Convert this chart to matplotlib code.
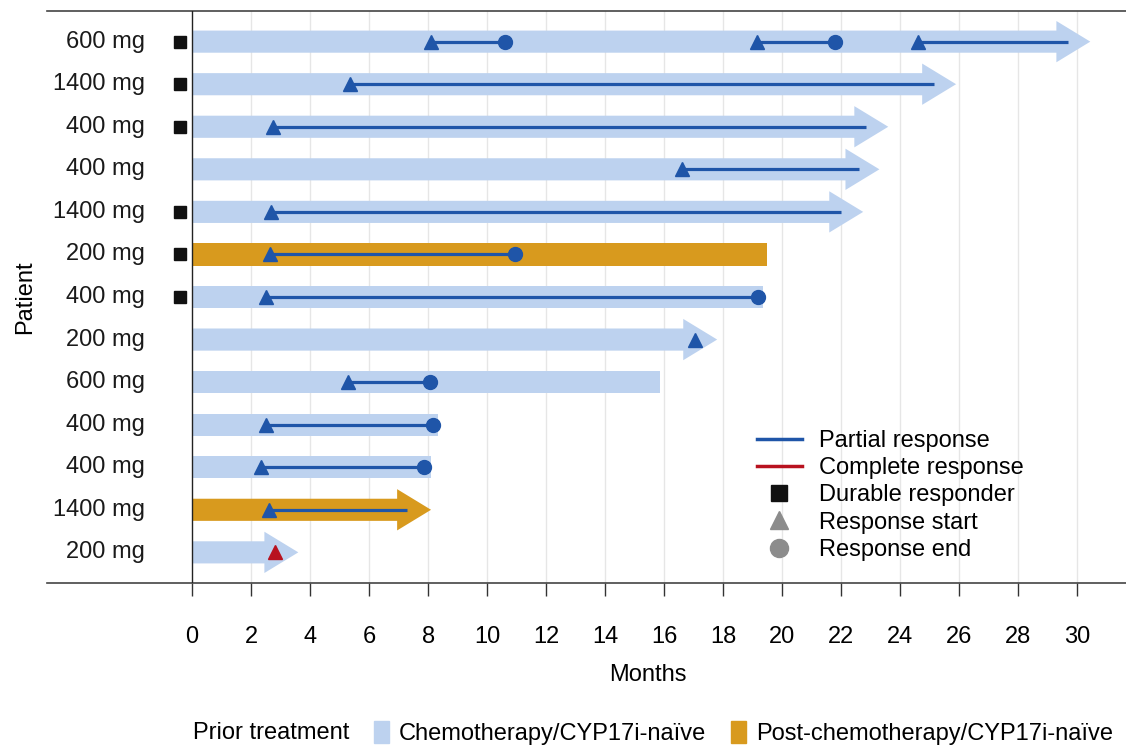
import numpy as np
import matplotlib
matplotlib.use("Agg")
import matplotlib.pyplot as plt
from matplotlib.patches import FancyArrow, Patch
from matplotlib.lines import Line2D

plt.rcParams['font.family'] = ['Liberation Sans', 'DejaVu Sans']
FS = 17

# one row per patient, top to bottom
doses = ['600 mg', '1400 mg', '400 mg', '400 mg', '1400 mg', '200 mg', '400 mg',
         '200 mg', '600 mg', '400 mg', '400 mg', '1400 mg', '200 mg']
duration = [30.45, 25.9, 23.6, 23.3, 22.75, 19.5, 19.35, 17.8, 15.85, 8.35, 8.1, 8.1, 3.6]
ongoing = [True, True, True, True, True, False, False, True, False, False, False, True, True]
post_chemo = [False, False, False, False, False, True, False, False, False, False, False, True, False]
durable = [True, True, True, False, True, True, True, False, False, False, False, False, False]

# response episodes
resp_row = [0, 0, 0, 1, 2, 3, 4, 5, 6, 7, 8, 9, 10, 11, 12]
resp_start = [8.1, 19.15, 24.6, 5.35, 2.75, 16.6, 2.68, 2.65, 2.5, 17.05, 5.3, 2.5, 2.35, 2.6, 2.8]
resp_end = [10.6, 21.8, 29.7, 25.15, 22.85, 22.6, 22.0, 10.95, 19.2, np.nan, 8.05, 8.15, 7.85, 7.3, np.nan]
resp_ended = [True, True, False, False, False, False, False, True, True, False, True, True, True, False, False]
resp_type = ['PR'] * 14 + ['CR']

C_CHEMO = '#BDD2EF'
C_POST = '#D89A1E'
C_PR = '#1F55A8'
C_CR = '#B8121F'

fig = plt.figure(figsize=(11.26, 7.48), dpi=100)
ax = fig.add_axes([47 / 1126, 1 - 583 / 748, 1 - 47 / 1126, (583 - 11) / 748])

rows = np.arange(1, len(doses) + 1)
bar_h = 0.52

for y, d, on, pc in zip(rows, duration, ongoing, post_chemo):
    col = C_POST if pc else C_CHEMO
    if on:
        ax.add_patch(FancyArrow(0, y, d, 0, width=bar_h, head_width=0.97, head_length=1.15,
                                length_includes_head=True, color=col, lw=0, zorder=2))
    else:
        ax.barh(y, d, height=bar_h, color=col, lw=0, zorder=2)

for r, s, e, ended, t in zip(resp_row, resp_start, resp_end, resp_ended, resp_type):
    y = rows[r]
    col = C_PR if t == 'PR' else C_CR
    if not np.isnan(e):
        ax.plot([s, e], [y, y], color=col, lw=2.3, zorder=3, solid_capstyle='butt')
        if ended:
            ax.plot(e, y, 'o', color=col, ms=10, zorder=4)
    ax.plot(s, y, '^', color=col, ms=10, zorder=4)

for y, dur_resp in zip(rows, durable):
    if dur_resp:
        ax.plot(-0.42, y, 's', color='#111111', ms=8.5, zorder=4)

for y, lab in zip(rows, doses):
    ax.text(-1.6, y, lab, ha='right', va='center', fontsize=FS, color='#1a1a1a')

ax.set_xlim(-4.92, 31.66)
ax.set_ylim(13.72, 0.28)
ax.axvline(0, color='#222222', lw=1, zorder=5)

xt = np.arange(0, 31, 2)
ax.set_xticks(xt)
ax.set_xticklabels([str(v) for v in xt], fontsize=FS)
ax.tick_params(axis='x', direction='out', length=9, width=1, color='#333333', pad=22)
ax.set_yticks([])
for v in xt[1:]:
    ax.axvline(v, color='#E6E6E6', lw=1, zorder=1)

for side in ['left', 'right']:
    ax.spines[side].set_visible(False)
for side in ['top', 'bottom']:
    ax.spines[side].set_color('#444444')
    ax.spines[side].set_linewidth(1.2)

fig.text(25 / 1126, 1 - 297 / 748, 'Patient', rotation=90, ha='center', va='center', fontsize=FS)
fig.text(648 / 1126, 1 - 675 / 748, 'Months', ha='center', va='center', fontsize=FS)

handles = [
    Line2D([], [], color=C_PR, lw=2.5),
    Line2D([], [], color=C_CR, lw=2.5),
    Line2D([], [], marker='s', color='#111111', ls='none', ms=11),
    Line2D([], [], marker='^', color='#8C8C8C', ls='none', ms=13),
    Line2D([], [], marker='o', color='#8C8C8C', ls='none', ms=13),
]
labels = ['Partial response', 'Complete response', 'Durable responder', 'Response start', 'Response end']
fig.legend(handles, labels, loc='upper left', bbox_to_anchor=(757 / 1126, 1 - 430 / 748),
           frameon=False, fontsize=FS, handlelength=1.9, handletextpad=0.72,
           labelspacing=0.22, borderpad=0, borderaxespad=0)

fig.text(193 / 1126, 1 - 733 / 748, 'Prior treatment', ha='left', va='center', fontsize=FS)
fig.legend([Patch(color=C_CHEMO), Patch(color=C_POST)],
           ['Chemotherapy/CYP17i-naïve', 'Post-chemotherapy/CYP17i-naïve'],
           loc='center left', bbox_to_anchor=(374 / 1126, 1 - 733 / 748), ncol=2,
           frameon=False, fontsize=FS, handlelength=0.65, handleheight=1.1,
           handletextpad=0.4, columnspacing=1.05, borderpad=0, borderaxespad=0)

fig.savefig('out.png', dpi=100)
